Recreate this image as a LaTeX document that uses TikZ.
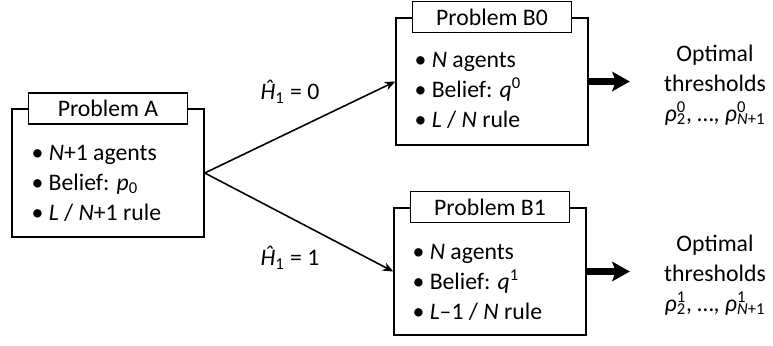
\documentclass[tikz,border=0pt]{standalone}
\usepackage{fontspec}
\setmainfont{Carlito}
\usepackage{tikz}
\usetikzlibrary{arrows.meta}

\newcommand{\thr}[2]{\textit{ρ}\rlap{\textsuperscript{#1}}\textsubscript{#2}}

\tikzset{
  probbox/.style={draw, line width=0.9pt, minimum width=3.84cm, minimum height=2.55cm},
  probtitle/.style={draw, fill=white, line width=0.9pt, minimum width=3.18cm,
    minimum height=0.62cm, inner sep=0pt},
  bullets/.style={align=left, anchor=west, inner sep=0pt},
  thinarrow/.style={-{Stealth[length=6pt,width=5pt]}, line width=0.9pt},
  fatarrow/.style={-{Stealth[length=10pt,width=11pt,inset=2pt]}, line width=4pt}
}

\begin{document}
\begin{tikzpicture}[x=0.02cm, y=-0.02cm, font=\fontsize{13.5}{17}\selectfont]
  \useasboundingbox (0,0) rectangle (773,345);

  % problem A
  \node[probbox] (A) at (108,173) {};
  \node[probtitle] (At) at (A.north) {Problem A};
  \node[bullets, xshift=0.4cm, yshift=-0.2cm] (Al) at (A.west)
    {• \textit{N}+1 agents\\ • Belief: \textit{p}\textsubscript{0}\\ • \textit{L} / \textit{N}+1 rule};

  % problems B0 and B1
  \node[probbox] (B0) at (492,81.5) {};
  \node[probtitle] (B0t) at (B0.north) {Problem B0};
  \node[bullets, xshift=0.38cm, yshift=-0.18cm] (B0l) at (B0.west)
    {• \textit{N} agents\\ • Belief: \textit{q}\textsuperscript{0}\\ • \textit{L} / \textit{N} rule};

  \node[probbox] (B1) at (490,271.5) {};
  \node[probtitle] (B1t) at (B1.north) {Problem B1};
  \node[bullets, xshift=0.38cm, yshift=-0.22cm] (B1l) at (B1.west)
    {• \textit{N} agents\\ • Belief: \textit{q}\textsuperscript{1}\\ • \textit{L}\textendash1 / \textit{N} rule};

  % results
  \node[align=center, inner sep=0pt] (T0) at (715,85)
    {Optimal\\ thresholds\\ \thr{0}{2}, …, \thr{0}{\textit{N}+1}};
  \node[align=center, inner sep=0pt] (T1) at (715,275)
    {Optimal\\ thresholds\\ \thr{1}{2}, …, \thr{1}{\textit{N}+1}};

  \node (h0) at (290,92) {\textit{Ĥ}\textsubscript{1} = 0};
  \node (h1) at (290,258) {\textit{Ĥ}\textsubscript{1} = 1};

  \draw[thinarrow] (A.east) -- (B0.west);
  \draw[thinarrow] (A.east) -- (B1.west);
  \draw[fatarrow, shorten >=0.68cm] (B0.east) -- (B0.east -| T0.west);
  \draw[fatarrow, shorten >=0.68cm] (B1.east) -- (B1.east -| T1.west);
\end{tikzpicture}
\end{document}
